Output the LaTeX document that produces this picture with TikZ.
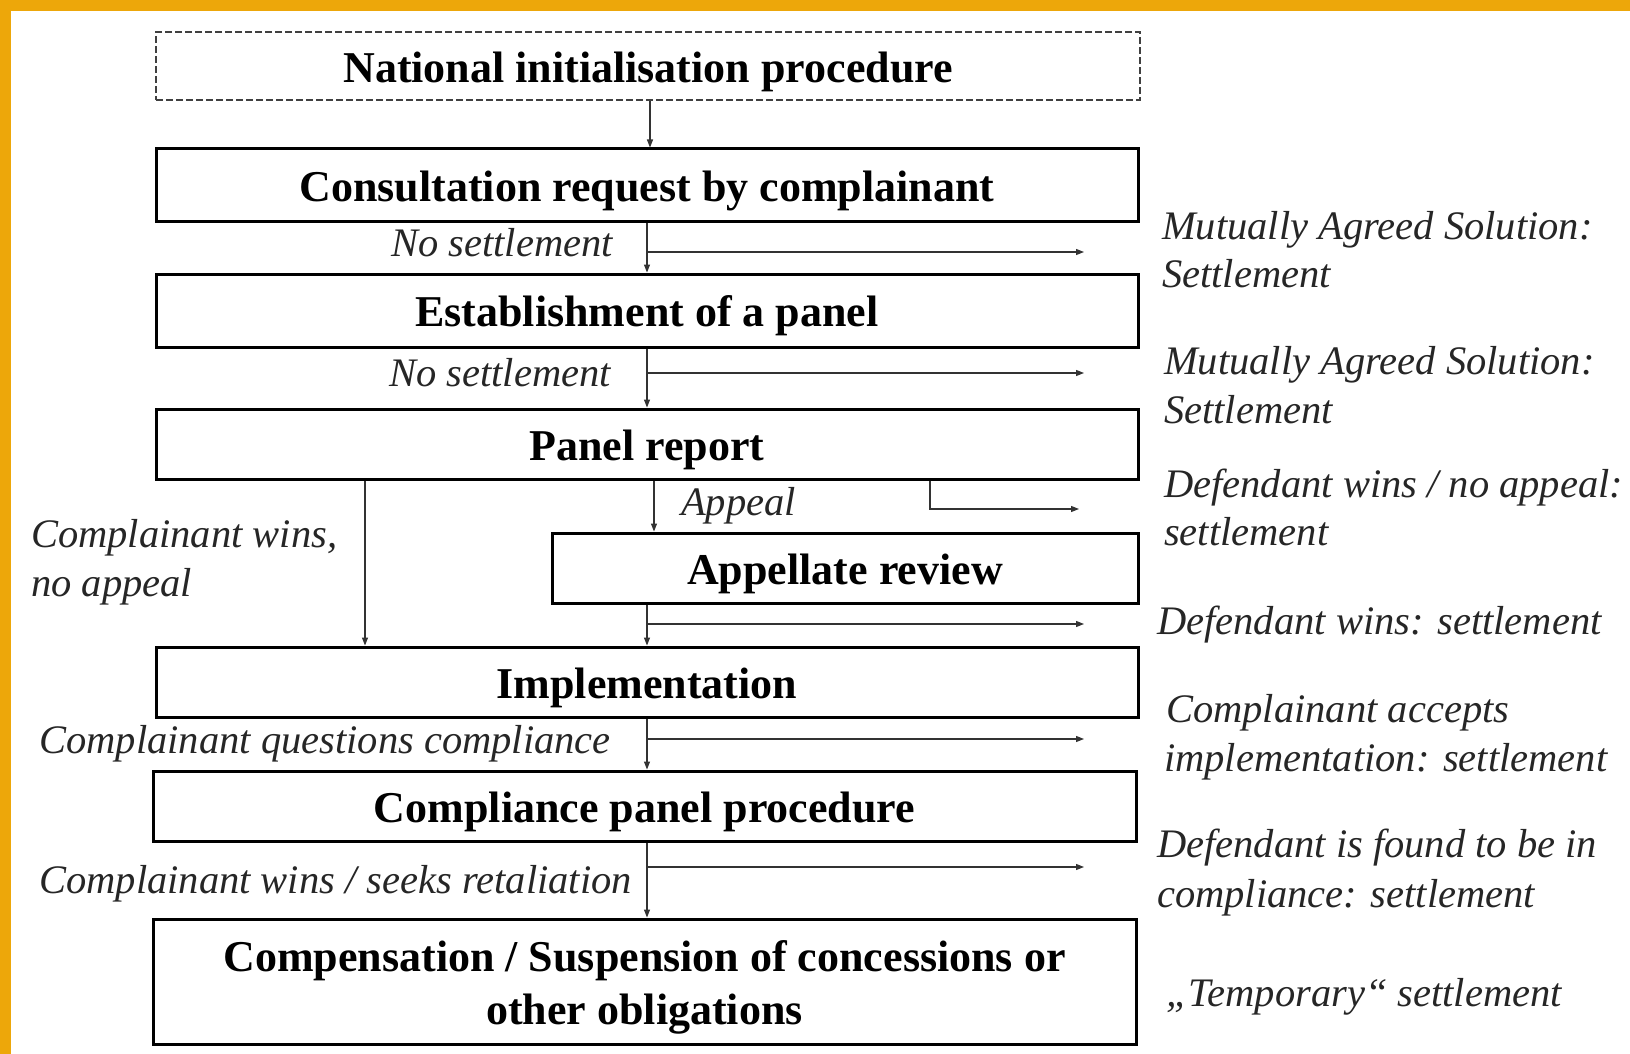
\documentclass[tikz,border=0pt]{standalone}
\usepackage{fontspec}
\setmainfont{Liberation Serif}
\usetikzlibrary{arrows.meta}
\definecolor{bandorange}{RGB}{237,167,10}
\newcommand{\boxstrut}{\rule{0pt}{42pt}}
\tikzset{
  box/.style={draw=black, line width=3pt, inner sep=0pt, align=center,
    font=\fontsize{44}{53}\selectfont\bfseries},
  dbox/.style={draw=black!75, line width=1.5pt, dash pattern=on 7pt off 3pt, inner sep=0pt,
    font=\fontsize{44}{53}\selectfont\bfseries},
  arr/.style={draw=black!80, line width=1.2pt, -{Triangle[length=8pt,width=6pt]}},
  lab/.style={inner sep=0pt, font=\fontsize{40.5}{49}\selectfont\itshape, text=black!85},
}
\begin{document}
\begin{tikzpicture}[x=1pt,y=-1pt]
\useasboundingbox (0,0) rectangle (1630,1054);
\fill[white] (0,0) rectangle (1630,1054);
\fill[bandorange] (0,0) rectangle (1630,11);
\fill[bandorange] (0,0) rectangle (11,1054);

% boxes
\node[dbox, minimum width=984pt, minimum height=68pt] (nat) at (648,66) {\boxstrut National initialisation procedure};
\node[box, minimum width=982pt, minimum height=72pt] (cons) at (647,185) {\boxstrut Consultation request by complainant};
\node[box, minimum width=982pt, minimum height=73pt] (est) at (647,310.5) {\boxstrut Establishment of a panel};
\node[box, minimum width=982pt, minimum height=70pt] (pan) at (647,444) {\boxstrut Panel report};
\node[box, minimum width=586pt, minimum height=70pt] (app) at (845,568) {\boxstrut Appellate review};
\node[box, minimum width=982pt, minimum height=70pt] (imp) at (647,682) {\boxstrut Implementation};
\node[box, minimum width=983pt, minimum height=70pt] (cpp) at (644.5,806) {\boxstrut Compliance panel procedure};
\node[box, minimum width=983pt, minimum height=125pt] (cmp) at (644.5,981.5) {\boxstrut Compensation / Suspension of concessions or\\other obligations};

% column coordinates
\coordinate (c0) at (650,0);
\coordinate (c1) at (647,0);
\coordinate (cl) at (365,0);
\coordinate (ca) at (654,0);
\coordinate (cr) at (930,0);

% vertical connectors
\draw[arr] (nat.south -| c0) -- (cons.north -| c0);
\draw[arr] (cons.south -| c1) -- (est.north -| c1);
\draw[arr] (est.south -| c1) -- (pan.north -| c1);
\draw[arr] (pan.south -| cl) -- (imp.north -| cl);
\draw[arr] (pan.south -| ca) -- (app.north -| ca);
\draw[arr] (app.south -| c1) -- (imp.north -| c1);
\draw[arr] (imp.south -| c1) -- (cpp.north -| c1);
\draw[arr] (cpp.south -| c1) -- (cmp.north -| c1);

% branch ends
\coordinate (b1) at (1084,252);
\coordinate (b2) at (1084,373);
\coordinate (b3) at (1079,509);
\coordinate (b4) at (1084,624);
\coordinate (b5) at (1084,739);
\coordinate (b6) at (1084,867);
\draw[arr] (b1 -| c1) -- (b1);
\draw[arr] (b2 -| c1) -- (b2);
\draw[arr] (pan.south -| cr) -- (b3 -| cr) -- (b3);
\draw[arr] (b4 -| c1) -- (b4);
\draw[arr] (b5 -| c1) -- (b5);
\draw[arr] (b6 -| c1) -- (b6);

% left labels
\node[lab, anchor=base east] (l1) at (613,256) {No settlement};
\node[lab, anchor=base east] (l2) at (611,386) {No settlement};
\node[lab, anchor=base west] (l3) at (681,515) {Appeal};
\node[lab, anchor=base west] (l4) at (31,547) {Complainant wins,};
\node[lab, anchor=base west] (l5) at (31,596) {no appeal};
\node[lab, anchor=base east] (l6) at (611,753) {Complainant questions compliance};
\node[lab, anchor=base east] (l7) at (632,893) {Complainant wins / seeks retaliation};

% right labels
\node[lab, anchor=base west] (r1) at (1162,239) {Mutually Agreed Solution:};
\node[lab, anchor=base west] (r2) at (1162,287) {Settlement};
\node[lab, anchor=base west] (r3) at (1164,374) {Mutually Agreed Solution:};
\node[lab, anchor=base west] (r4) at (1164,423) {Settlement};
\node[lab, anchor=base west] (r5) at (1164,497) {Defendant wins / no appeal:};
\node[lab, anchor=base west] (r6) at (1164,545) {settlement};
\node[lab, anchor=base west] (r7) at (1157,634) {Defendant wins: settlement};
\node[lab, anchor=base west] (r8) at (1166,722) {Complainant accepts};
\node[lab, anchor=base west] (r9) at (1164,771) {implementation: settlement};
\node[lab, anchor=base west] (r10) at (1157,857) {Defendant is found to be in};
\node[lab, anchor=base west] (r11) at (1157,907) {compliance: settlement};
\node[lab, anchor=base west] (r12) at (1166,1006) {„Temporary“ settlement};
\end{tikzpicture}
\end{document}
